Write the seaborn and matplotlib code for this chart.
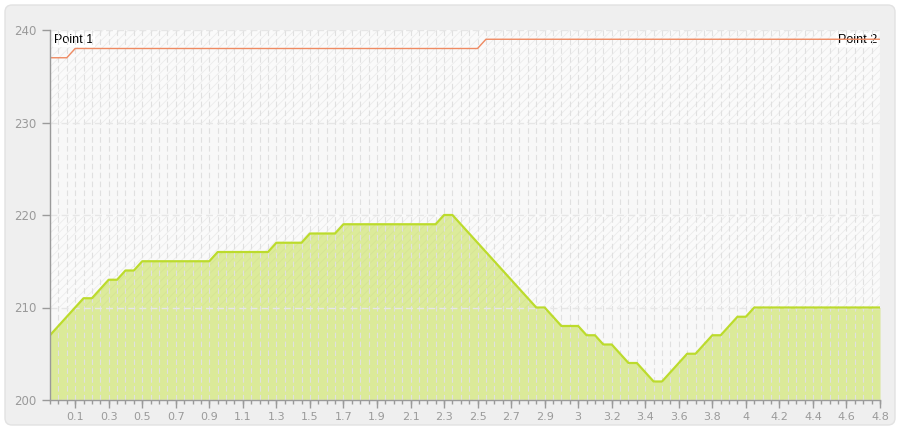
import matplotlib
matplotlib.use('Agg')
import matplotlib.pyplot as plt
import matplotlib.patches as mpatches
import matplotlib.transforms as mtransforms
import numpy as np
import pandas as pd
import seaborn as sns

# elevation profile, one value per category on the x axis
elevation = [207, 208, 209, 210, 211, 211, 212, 213, 213, 214, 214,
             215, 215, 215, 215, 215, 215, 215, 215, 215,
             216, 216, 216, 216, 216, 216, 216,
             217, 217, 217, 217,
             218, 218, 218, 218,
             219, 219, 219, 219, 219, 219, 219, 219, 219, 219, 219, 219,
             220, 220,
             219, 218, 217, 216, 215, 214, 213, 212, 211,
             210, 210, 209, 208, 208, 208, 207, 207, 206, 206, 205,
             204, 204, 203, 202, 202, 203, 204, 205, 205, 206, 207, 207,
             208, 209, 209,
             210, 210, 210, 210, 210, 210, 210, 210,
             210, 210, 210, 210, 210, 210, 210, 210]

# line between Point 1 and Point 2
sight_line = [237, 237, 237] + [238] * 49 + [239] * 48

x_labels = ['0.1', '0.3', '0.5', '0.7', '0.9', '1.1', '1.3', '1.5', '1.7',
            '1.9', '2.1', '2.3', '2.5', '2.7', '2.9', '3', '3.2', '3.4',
            '3.6', '3.8', '4', '4.2', '4.4', '4.6', '4.8']

y_ticks = [200, 210, 220, 230, 240]
point_labels = ['Point 1', 'Point 2']

GRAY = '#9a9a9a'


def main():
    sns.set_style('white')
    plt.rcParams['font.family'] = ['DejaVu Sans']
    plt.rcParams['hatch.linewidth'] = 0.5

    df = pd.DataFrame({'idx': np.arange(len(elevation)),
                       'elevation': elevation,
                       'sight': sight_line})

    fig = plt.figure(figsize=(9, 4.3), dpi=100, facecolor='white')

    # rounded grey panel behind everything
    frame = mpatches.FancyBboxPatch((5, 5), 890, 420,
                                    boxstyle='round,pad=0,rounding_size=7',
                                    facecolor='#efefef', edgecolor='#e2e2e2',
                                    linewidth=1.0,
                                    transform=mtransforms.IdentityTransform(),
                                    zorder=-10)
    fig.add_artist(frame)

    ax = fig.add_axes([50 / 900, 30 / 430, 830 / 900, 370 / 430])
    ax.set_facecolor('#f8f8f8')

    # alternating hatched bands
    for lo in (210, 230):
        ax.axhspan(lo, lo + 10, facecolor='#fafafa', edgecolor='#e9e9e9',
                   hatch='////', linewidth=0, zorder=0.5)

    ax.fill_between(df['idx'], 200, df['elevation'], color='#c8e15a',
                    alpha=0.6, linewidth=0, zorder=1)
    sns.lineplot(data=df, x='idx', y='elevation', ax=ax, color='#bcdb2c',
                 linewidth=1.6, zorder=3)
    sns.lineplot(data=df, x='idx', y='sight', ax=ax, color='#ef8a62',
                 linewidth=1.0, zorder=4)

    n = len(elevation)
    ax.set_xlim(0, n - 1)
    ax.set_ylim(200, 240)

    major_pos = list(range(3, n, 4))
    ax.xaxis.remove_overlapping_locs = False
    ax.set_xticks(major_pos)
    ax.set_xticklabels(x_labels)
    ax.set_xticks(range(n), minor=True)
    ax.set_yticks(y_ticks)
    ax.set_yticklabels([str(v) for v in y_ticks])

    ax.tick_params(axis='x', which='major', direction='out', length=6,
                   width=1, color=GRAY, labelcolor=GRAY, labelsize=8, pad=3)
    ax.tick_params(axis='x', which='minor', direction='out', length=3,
                   width=1, color=GRAY)
    ax.tick_params(axis='y', direction='out', length=6, width=1,
                   color=GRAY, labelcolor=GRAY, labelsize=8.5, pad=4)
    ax.tick_params(bottom=True, left=True, which='both')
    ax.tick_params(axis='y', which='minor', left=False)

    # dashed grid over the fill
    ax.set_axisbelow(False)
    ax.grid(True, axis='x', which='minor', color='#e0e0e0', linestyle=(0, (5, 3)),
            linewidth=0.8, zorder=2)
    ax.grid(True, axis='y', which='major', color='#e6e6e6', linestyle=(0, (5, 3)),
            linewidth=1.0, zorder=2)
    ax.grid(False, axis='x', which='major')

    for side in ('top', 'right'):
        ax.spines[side].set_visible(False)
    for side in ('left', 'bottom'):
        ax.spines[side].set_color(GRAY)
        ax.spines[side].set_linewidth(1.0)
        ax.spines[side].set_zorder(5)

    ax.set_xlabel('')
    ax.set_ylabel('')

    box = dict(facecolor='white', edgecolor='none', pad=1.0)
    ax.text(4 / 830, 1 - 10 / 370, point_labels[0], transform=ax.transAxes,
            ha='left', va='center', fontsize=9, family=['Liberation Sans'],
            color='black', bbox=box, zorder=2.2)
    ax.text(1 - 3 / 830, 1 - 10 / 370, point_labels[1], transform=ax.transAxes,
            ha='right', va='center', fontsize=9, family=['Liberation Sans'],
            color='black', bbox=box, zorder=2.2)

    fig.savefig('out.png', dpi=100, facecolor='white')
    plt.close(fig)


if __name__ == '__main__':
    main()
